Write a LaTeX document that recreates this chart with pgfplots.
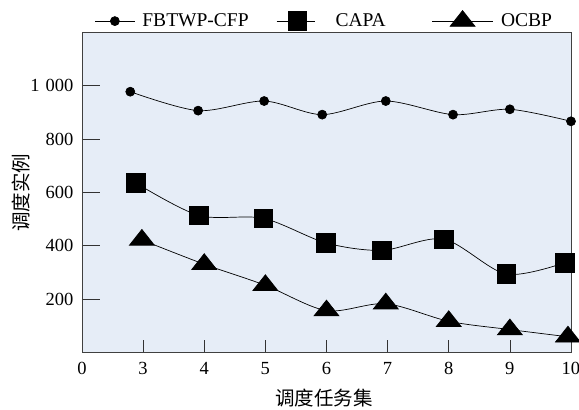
\documentclass[border=0pt]{standalone}
\usepackage{fontspec}
\setmainfont{Liberation Serif}
\newfontfamily\cjk{Noto Sans CJK SC}
\usepackage{pgfplots}
\pgfplotsset{compat=1.18}
\definecolor{bgblue}{HTML}{E6EDF7}
\pgfplotsset{
  legA/.style={legend image code/.code={\draw[mark repeat=2,mark phase=2,##1] plot coordinates {(0pt,0pt)(19.5pt,0pt)(39pt,0pt)};}},
  legB/.style={legend image code/.code={\draw[mark repeat=2,mark phase=2,##1] plot coordinates {(0pt,0pt)(20.5pt,0pt)(38pt,0pt)};}},
  legC/.style={legend image code/.code={\draw[mark repeat=2,mark phase=2,##1] plot coordinates {(0pt,0pt)(30.5pt,0pt)(61pt,0pt)};}},
}
\begin{document}
\begin{tikzpicture}
\begin{axis}[
  name=ax,
  scale only axis, width=489pt, height=320pt,
  xmin=2, xmax=10, ymin=0, ymax=1200,
  clip=false,
  xtick={2,3,4,5,6,7,8,9,10}, xticklabels={0,3,4,5,6,7,8,9,10},
  ytick={200,400,600,800,1000}, yticklabels={200,400,600,800,1\hspace{0.33em}000},
  tick align=inside, tick pos=left,
  xtick style={/pgfplots/major tick length=12pt, black!80, line width=0.7pt},
  ytick style={/pgfplots/major tick length=18pt, black!80, line width=0.7pt},
  axis background/.style={fill=bgblue},
  axis line style={draw=black!75, line width=0.9pt},
  tick label style={font=\fontsize{18.5}{20}\selectfont},
  xticklabel style={yshift=-6pt},
  yticklabel style={xshift=-5pt},
  /pgf/number format/assume math mode=true,
  xlabel={\cjk 调度任务集}, ylabel={\cjk 调度实例},
  label style={font=\fontsize{19.5}{21}\selectfont},
  xlabel style={at={(axis description cs:0.495,-0.142)}, anchor=center},
  ylabel style={at={(axis description cs:-0.125,0.5)}, anchor=center},
  legend columns=-1,
  legend style={draw=none, fill=none, inner sep=0pt, outer sep=0pt,
    at={(axis description cs:0.0266,1.0375)}, anchor=west,
    font=\fontsize{19.5}{21}\selectfont,
    nodes={inner sep=0pt},
    /tikz/column 1/.style={column sep=7.7pt},
    /tikz/column 2/.style={column sep=27.7pt},
    /tikz/column 3/.style={column sep=20.5pt},
    /tikz/column 4/.style={column sep=46pt},
    /tikz/column 5/.style={column sep=7.6pt}},
]
\addplot[black, line width=0.7pt, smooth, mark=*, mark size=4.5pt, legA]
  coordinates {(2.79,978) (3.9,907) (4.98,943) (5.93,892) (6.97,943) (8.07,892) (9.0,912) (10,867)};
\addlegendentry{FBTWP-CFP}
\addplot[black, line width=0.7pt, smooth, mark=square*, mark size=9.3pt, legB]
  coordinates {(2.88,636) (3.91,514) (4.97,503) (5.99,411) (6.91,383) (7.92,425) (8.94,294) (9.9,337)};
\addlegendentry{CAPA}
\addplot[black, line width=0.7pt, smooth, mark=triangle*, mark size=10.5pt, mark options={xscale=1.37}, legC]
  coordinates {(2.98,422) (4,331) (5,252) (6,157) (6.97,183) (8,117) (9,86) (9.95,59)};
\addlegendentry{OCBP}
\end{axis}
\pgfresetboundingbox
\path ([shift={(-82pt,-57.5pt)}]ax.south west) rectangle ++(579pt,410pt);
\end{tikzpicture}
\end{document}
